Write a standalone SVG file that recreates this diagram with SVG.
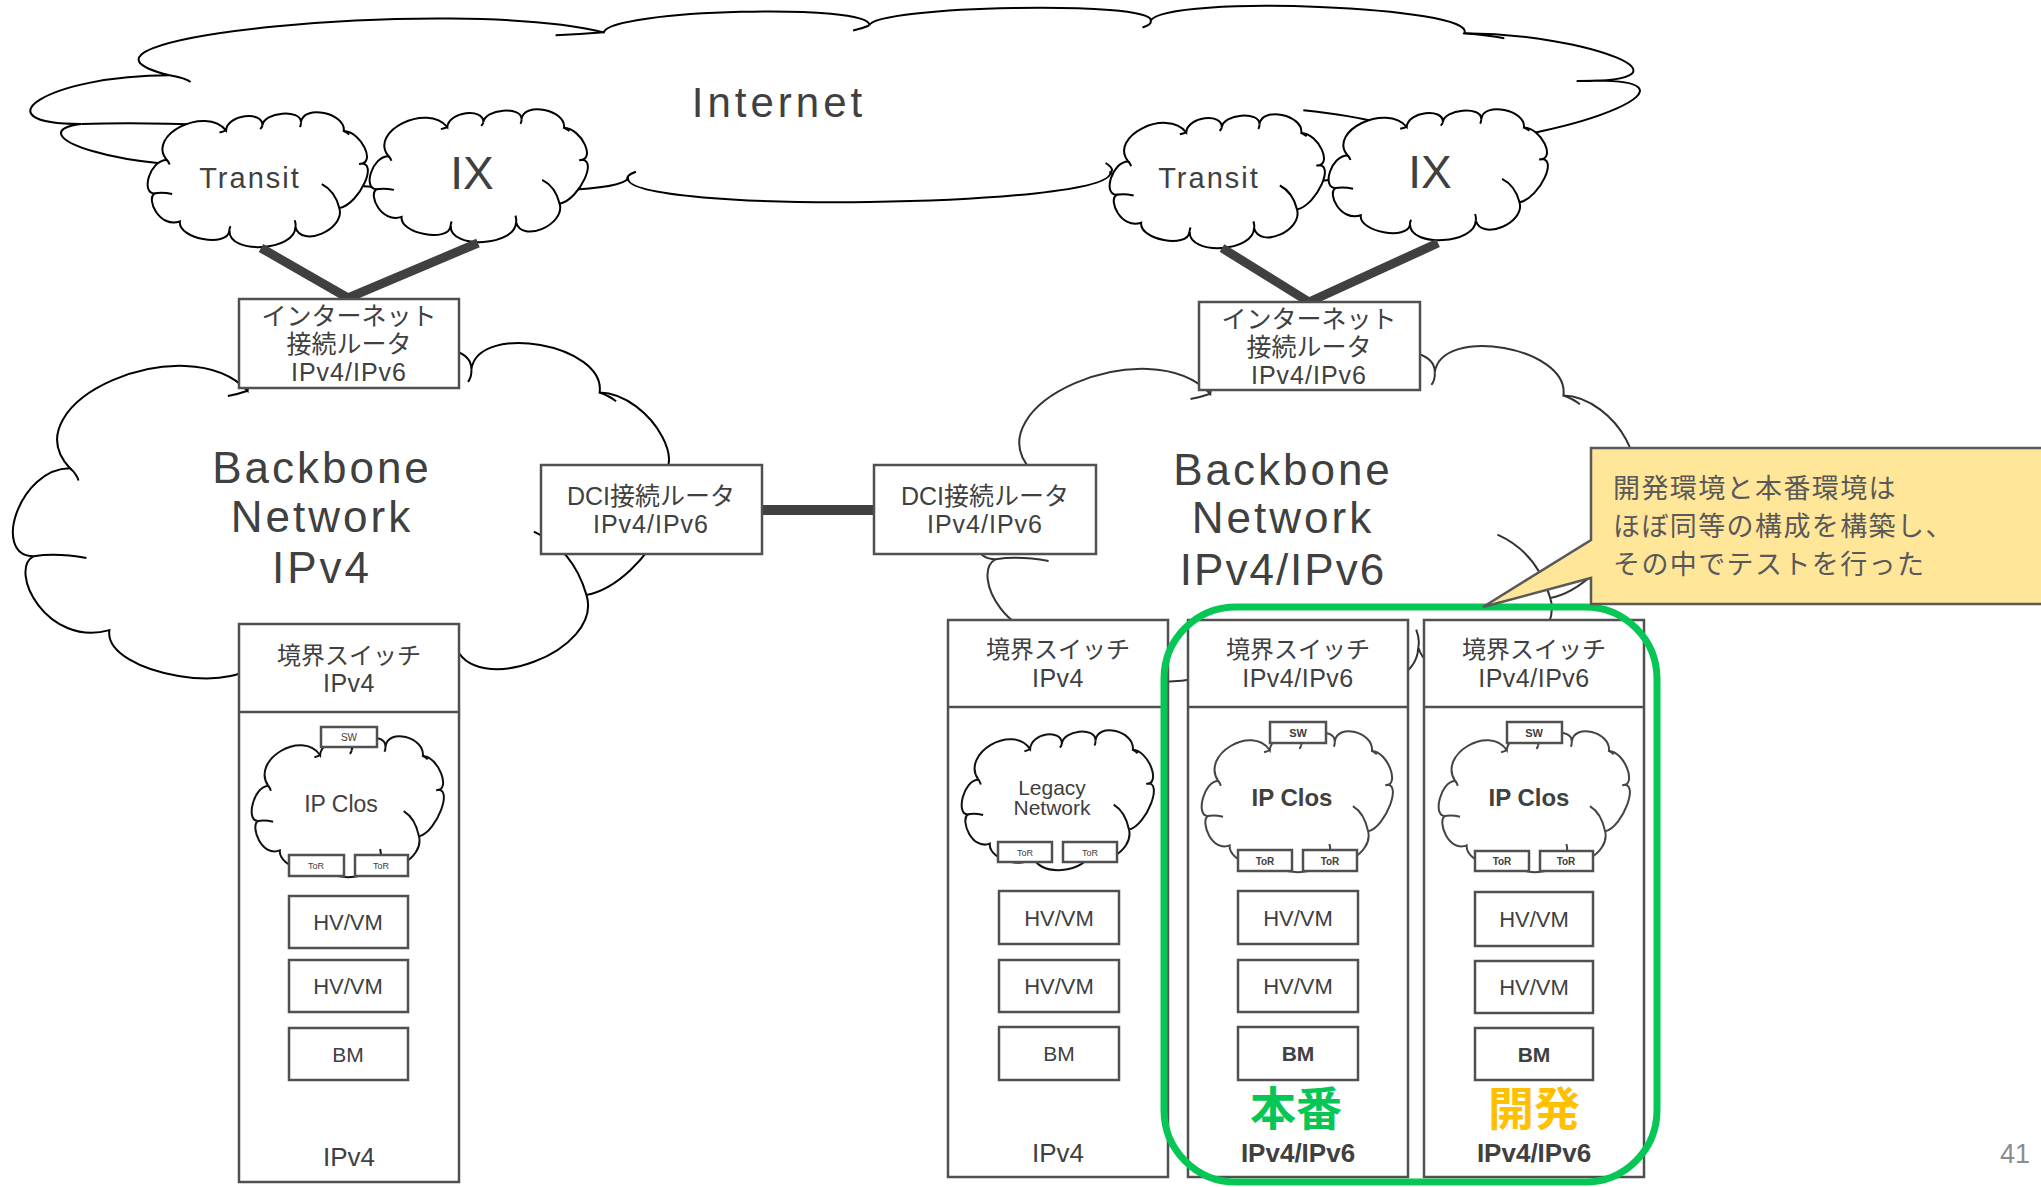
<svg xmlns="http://www.w3.org/2000/svg" xmlns:xlink="http://www.w3.org/1999/xlink" width="2041" height="1187" viewBox="0 0 2041 1187">
<style>
.cl{fill:#fff;vector-effect:non-scaling-stroke}
.hk{fill:none;vector-effect:non-scaling-stroke}
.box{fill:#fff;stroke:#505050;stroke-width:2.5}
.t{font-family:"Liberation Sans","Noto Sans CJK JP",sans-serif;fill:#404040;text-anchor:middle}
.b{font-weight:bold}
.thick{stroke:#404040;stroke-width:9;fill:none}
</style>
<defs>
<symbol id="cloud" viewBox="0 0 100 100" preserveAspectRatio="none" style="overflow:visible">
<path class="cl" d="M8.5,35 C0.83,35 -3.5,60 3,60 C-1,64 5,86 14.5,81 C13.5,93.67 36,100.67 37,88 C37,106 67,103 67,85 C69.67,101 89.67,87 87,71 C96.33,67.67 105.33,34.67 96,38 C104,38.33 97,13.83 89,13.5 C90,-0.17 70.5,-6.67 69.5,7 C69.83,-3.33 52.33,-0.83 52,9.5 C52.33,-2.17 35.83,1.33 35.5,13 C26.17,-5.67 -0.83,16.33 8.5,35 Z"/>
<path class="hk" d="M79,53 Q85,58 87,71 M11,60.5 Q6.5,59 3,60 M37,89 Q36.8,86.5 37.5,84.5 M66.7,80 Q67.3,83 67,85 M89,13.5 Q90.5,14.5 91.5,16 M69.5,7 Q69.6,9 69,10.5 M52,9.5 Q51.6,11 51,12 M35.5,13 Q34,14 32.5,14.5 M8.5,35 Q9.5,36.5 9.8,38.5"/>
</symbol>
</defs>
<rect width="2041" height="1187" fill="#fff"/>

<g id="internet">
<use href="#cloud" x="33" y="7" width="1608" height="195" stroke="#000" stroke-width="2"/>
<text class="t" x="779" y="117" font-size="42" letter-spacing="4">Internet</text>
</g>
<g id="transit-left">
<use href="#cloud" x="148" y="113" width="220" height="134" stroke="#000" stroke-width="2"/>
<text class="t" x="250" y="188" font-size="29" letter-spacing="2">Transit</text>
</g>
<g id="ix-left">
<use href="#cloud" x="370" y="110" width="218" height="132" stroke="#000" stroke-width="2"/>
<text class="t" x="472" y="189" font-size="46">IX</text>
</g>
<g id="transit-right">
<use href="#cloud" x="1110" y="115" width="215" height="133" stroke="#000" stroke-width="2"/>
<text class="t" x="1209" y="188" font-size="29" letter-spacing="2">Transit</text>
</g>
<g id="ix-right">
<use href="#cloud" x="1329" y="110" width="219" height="130" stroke="#000" stroke-width="2"/>
<text class="t" x="1430" y="188" font-size="46">IX</text>
</g>

<g id="backbone-left">
<use href="#cloud" x="14" y="345" width="658" height="352" stroke="#000" stroke-width="2"/>
<text class="t" x="322" y="483" font-size="44" letter-spacing="3">Backbone</text>
<text class="t" x="322" y="532" font-size="44" letter-spacing="3">Network</text>
<text class="t" x="322" y="583" font-size="44" letter-spacing="3">IPv4</text>
</g>
<g id="backbone-right">
<use href="#cloud" x="976" y="348" width="660" height="352" stroke="#333" stroke-width="2"/>
<text class="t" x="1283" y="485" font-size="44" letter-spacing="3">Backbone</text>
<text class="t" x="1283" y="533" font-size="44" letter-spacing="3">Network</text>
<text class="t" x="1283" y="585" font-size="44" letter-spacing="2">IPv4/IPv6</text>
</g>

<g id="connectors">
<polyline class="thick" points="261,248 348,298 478,243"/>
<polyline class="thick" points="1222,248 1309,302 1438,243"/>
<line x1="762" y1="510" x2="874" y2="510" stroke="#404040" stroke-width="10"/>
</g>

<g id="router-left">
<rect class="box" x="239" y="299" width="220" height="89"/>
<text class="t" x="349" y="325" font-size="25">インターネット</text>
<text class="t" x="349" y="353" font-size="25">接続ルータ</text>
<text class="t" x="349" y="381" font-size="25" letter-spacing="1">IPv4/IPv6</text>
</g>
<g id="router-right">
<rect class="box" x="1199" y="302" width="221" height="88"/>
<text class="t" x="1309" y="328" font-size="25">インターネット</text>
<text class="t" x="1309" y="356" font-size="25">接続ルータ</text>
<text class="t" x="1309" y="384" font-size="25" letter-spacing="1">IPv4/IPv6</text>
</g>
<g id="dci-left">
<rect class="box" x="541" y="465" width="221" height="89"/>
<text class="t" x="651" y="505" font-size="25">DCI接続ルータ</text>
<text class="t" x="651" y="533" font-size="25" letter-spacing="1">IPv4/IPv6</text>
</g>
<g id="dci-right">
<rect class="box" x="874" y="465" width="222" height="89"/>
<text class="t" x="985" y="505" font-size="25">DCI接続ルータ</text>
<text class="t" x="985" y="533" font-size="25" letter-spacing="1">IPv4/IPv6</text>
</g>

<g id="col1">
<rect class="box" x="239" y="624" width="220" height="558"/>
<line x1="239" y1="712" x2="459" y2="712" stroke="#505050" stroke-width="2.5"/>
<text class="t" x="349" y="664" font-size="24">境界スイッチ</text>
<text class="t" x="349" y="692" font-size="25" letter-spacing="0.5">IPv4</text>
<use href="#cloud" x="252" y="737" width="192" height="140" stroke="#111" stroke-width="2"/>
<text class="t" x="341" y="812" font-size="23">IP Clos</text>
<rect class="box" x="321" y="727" width="56" height="20" stroke-width="2"/>
<text class="t" x="349" y="741" font-size="10">SW</text>
<rect class="box" x="289" y="855" width="55" height="21" stroke-width="2"/>
<text class="t" x="316" y="869" font-size="9">ToR</text>
<rect class="box" x="355" y="855" width="53" height="21" stroke-width="2"/>
<text class="t" x="381" y="869" font-size="9">ToR</text>
<rect class="box" x="289" y="896" width="119" height="52"/>
<text class="t" x="348" y="930" font-size="22">HV/VM</text>
<rect class="box" x="289" y="960" width="119" height="52"/>
<text class="t" x="348" y="994" font-size="22">HV/VM</text>
<rect class="box" x="289" y="1028" width="119" height="52"/>
<text class="t" x="348" y="1062" font-size="21">BM</text>
<text class="t" x="349" y="1166" font-size="26">IPv4</text>
</g>

<g id="col2">
<rect class="box" x="948" y="620" width="220" height="557"/>
<line x1="948" y1="707" x2="1168" y2="707" stroke="#505050" stroke-width="2.5"/>
<text class="t" x="1058" y="658" font-size="24">境界スイッチ</text>
<text class="t" x="1058" y="687" font-size="25" letter-spacing="0.5">IPv4</text>
<use href="#cloud" x="962" y="731" width="192" height="139" stroke="#111" stroke-width="2"/>
<text class="t" x="1052" y="795" font-size="21">Legacy</text>
<text class="t" x="1052" y="815" font-size="21">Network</text>
<rect class="box" x="998" y="842" width="54" height="20" stroke-width="2"/>
<text class="t" x="1025" y="856" font-size="9">ToR</text>
<rect class="box" x="1063" y="842" width="54" height="20" stroke-width="2"/>
<text class="t" x="1090" y="856" font-size="9">ToR</text>
<rect class="box" x="999" y="891" width="120" height="53"/>
<text class="t" x="1059" y="926" font-size="22">HV/VM</text>
<rect class="box" x="999" y="960" width="120" height="52"/>
<text class="t" x="1059" y="994" font-size="22">HV/VM</text>
<rect class="box" x="999" y="1027" width="120" height="53"/>
<text class="t" x="1059" y="1061" font-size="21">BM</text>
<text class="t" x="1058" y="1162" font-size="26">IPv4</text>
</g>

<g id="col3">
<rect class="box" x="1188" y="620" width="220" height="557"/>
<line x1="1188" y1="707" x2="1408" y2="707" stroke="#505050" stroke-width="2.5"/>
<text class="t" x="1298" y="658" font-size="24">境界スイッチ</text>
<text class="t" x="1298" y="687" font-size="25" letter-spacing="0.5">IPv4/IPv6</text>
<use href="#cloud" x="1202" y="732" width="191" height="140" stroke="#444" stroke-width="2"/>
<text class="t b" x="1292" y="806" font-size="24">IP Clos</text>
<rect class="box" x="1270" y="722" width="56" height="21" stroke-width="2"/>
<text class="t b" x="1298" y="737" font-size="11">SW</text>
<rect class="box" x="1238" y="850" width="54" height="21" stroke-width="2"/>
<text class="t b" x="1265" y="865" font-size="10">ToR</text>
<rect class="box" x="1303" y="850" width="54" height="21" stroke-width="2"/>
<text class="t b" x="1330" y="865" font-size="10">ToR</text>
<rect class="box" x="1238" y="891" width="120" height="53"/>
<text class="t" x="1298" y="926" font-size="22">HV/VM</text>
<rect class="box" x="1238" y="960" width="120" height="52"/>
<text class="t" x="1298" y="994" font-size="22">HV/VM</text>
<rect class="box" x="1238" y="1027" width="120" height="53"/>
<text class="t b" x="1298" y="1061" font-size="21">BM</text>
<text class="t b" x="1296" y="1125" font-size="46" style="fill:#06C755">本番</text>
<text class="t b" x="1298" y="1162" font-size="26">IPv4/IPv6</text>
</g>

<g id="col4">
<rect class="box" x="1424" y="620" width="220" height="557"/>
<line x1="1424" y1="707" x2="1644" y2="707" stroke="#505050" stroke-width="2.5"/>
<text class="t" x="1534" y="658" font-size="24">境界スイッチ</text>
<text class="t" x="1534" y="687" font-size="25" letter-spacing="0.5">IPv4/IPv6</text>
<use href="#cloud" x="1439" y="732" width="191" height="140" stroke="#444" stroke-width="2"/>
<text class="t b" x="1529" y="806" font-size="24">IP Clos</text>
<rect class="box" x="1507" y="722" width="55" height="21" stroke-width="2"/>
<text class="t b" x="1534" y="737" font-size="11">SW</text>
<rect class="box" x="1475" y="851" width="54" height="20" stroke-width="2"/>
<text class="t b" x="1502" y="865" font-size="10">ToR</text>
<rect class="box" x="1540" y="851" width="53" height="20" stroke-width="2"/>
<text class="t b" x="1566" y="865" font-size="10">ToR</text>
<rect class="box" x="1475" y="892" width="118" height="54"/>
<text class="t" x="1534" y="927" font-size="22">HV/VM</text>
<rect class="box" x="1475" y="961" width="118" height="52"/>
<text class="t" x="1534" y="995" font-size="22">HV/VM</text>
<rect class="box" x="1475" y="1028" width="118" height="52"/>
<text class="t b" x="1534" y="1062" font-size="21">BM</text>
<text class="t b" x="1534" y="1125" font-size="46" style="fill:#FFC000">開発</text>
<text class="t b" x="1534" y="1162" font-size="26">IPv4/IPv6</text>
</g>

<g id="highlight">
<rect x="1164" y="607" width="493" height="575" rx="72" ry="72" fill="none" stroke="#06C755" stroke-width="7"/>
</g>

<g id="callout">
<path d="M1591,448 H2046 V604 H1591 V578 L1483,607 L1591,540 Z" fill="#FFE699" stroke="#595959" stroke-width="2.5"/>
<text class="t" x="1613" y="498" font-size="27" letter-spacing="1.4" style="text-anchor:start;fill:#595959">開発環境と本番環境は</text>
<text class="t" x="1613" y="536" font-size="27" letter-spacing="1.4" style="text-anchor:start;fill:#595959">ほぼ同等の構成を構築し、</text>
<text class="t" x="1613" y="574" font-size="27" letter-spacing="1.4" style="text-anchor:start;fill:#595959">その中でテストを行った</text>
</g>

<g id="page-number">
<text class="t" x="2015" y="1163" font-size="27" style="fill:#8c8c8c">41</text>
</g>
</svg>
